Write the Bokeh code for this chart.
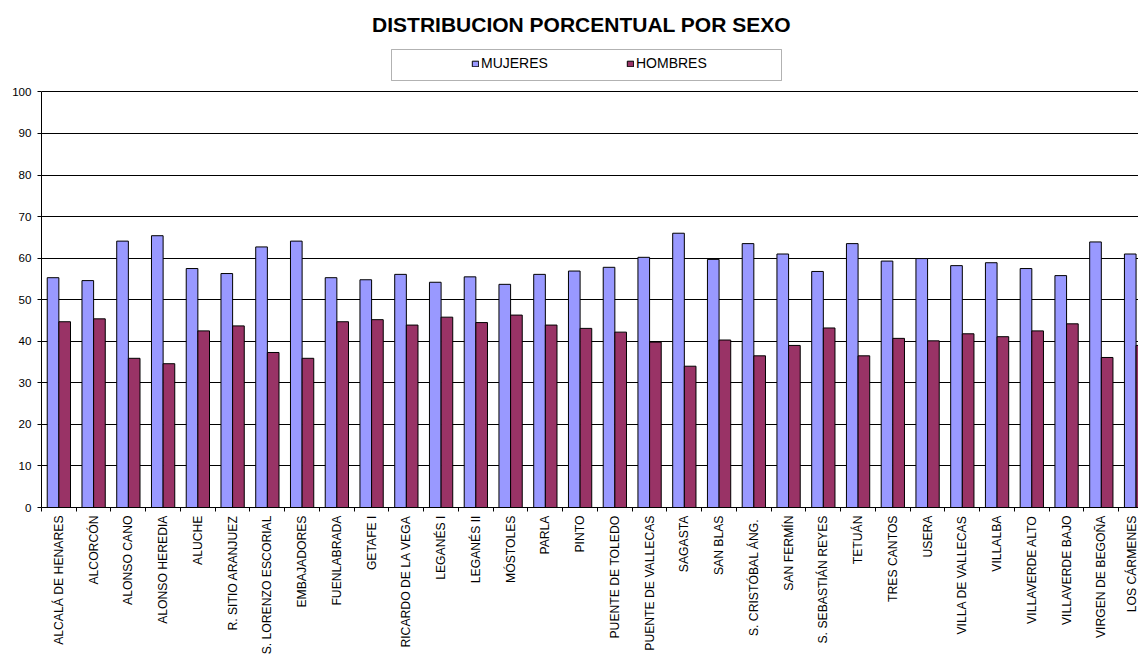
import numpy as np
from bokeh.plotting import figure
from bokeh.models import (Range1d, FixedTicker, ColumnDataSource, Legend, LegendItem,
                          Label, BoxAnnotation)
from bokeh.transform import dodge
from bokeh.embed import file_html
from bokeh.resources import INLINE

categories = ["ALCALÁ DE HENARES", "ALCORCÓN", "ALONSO CANO", "ALONSO HEREDIA", "ALUCHE",
              "R. SITIO ARANJUEZ", "S. LORENZO ESCORIAL", "EMBAJADORES", "FUENLABRADA", "GETAFE I",
              "RICARDO DE LA VEGA", "LEGANÉS I", "LEGANÉS II", "MÓSTOLES", "PARLA", "PINTO",
              "PUENTE DE TOLEDO", "PUENTE DE VALLECAS", "SAGASTA", "SAN BLAS", "S. CRISTÓBAL  ÁNG.",
              "SAN FERMÍN", "S. SEBASTIÁN REYES", "TETUÁN", "TRES CANTOS", "USERA",
              "VILLA DE VALLECAS", "VILLALBA", "VILLAVERDE ALTO", "VILLAVERDE BAJO",
              "VIRGEN DE BEGOÑA", "LOS CÁRMENES"]
mujeres = [55.3, 54.6, 64.1, 65.4, 57.5, 56.3, 62.7, 64.1, 55.3, 54.8,
           56.1, 54.2, 55.5, 53.7, 56.1, 56.9, 57.8, 60.2, 66.0, 59.7,
           63.5, 61.0, 56.8, 63.5, 59.3, 59.9, 58.2, 58.9, 57.5, 55.8,
           63.9, 61.0]
hombres = [44.7, 45.4, 35.9, 34.6, 42.5, 43.7, 37.3, 35.9, 44.7, 45.2,
           43.9, 45.8, 44.5, 46.3, 43.9, 43.1, 42.2, 39.8, 34.0, 40.3,
           36.5, 39.0, 43.2, 36.5, 40.7, 40.1, 41.8, 41.1, 42.5, 44.2,
           36.1, 39.0]
y_ticks = list(range(0, 101, 10))

FONT = "Liberation Sans"
BLUE = "#9999FF"
RED = "#993366"

idx = list(range(len(categories)))
src = ColumnDataSource(dict(x=idx, cat=categories, muj=mujeres, hom=hombres))

p = figure(width=1138, height=657, output_backend="svg", toolbar_location=None,
           x_range=Range1d(-0.5, 31.07), y_range=Range1d(0, 122.0),
           min_border_left=41, min_border_right=0, min_border_top=0, min_border_bottom=150)
p.outline_line_color = None
p.background_fill_color = "white"
p.border_fill_color = "white"

bw = 0.335
r1 = p.vbar(x=dodge("x", -bw / 2, range=p.x_range), top="muj", width=bw, source=src,
            fill_color=BLUE, line_color="black", line_width=1)
r2 = p.vbar(x=dodge("x", bw / 2, range=p.x_range), top="hom", width=bw, source=src,
            fill_color=RED, line_color="black", line_width=1)

# y axis
p.yaxis.ticker = FixedTicker(ticks=y_ticks)
p.yaxis.bounds = (0, 100)
p.yaxis.minor_tick_line_color = None
p.yaxis.major_tick_in = 0
p.yaxis.major_tick_out = 4
p.yaxis.major_label_standoff = 6
p.yaxis.major_label_text_font = FONT
p.yaxis.major_label_text_font_size = "11.6px"
p.yaxis.major_label_text_color = "black"
p.yaxis.axis_line_color = "black"
p.yaxis.major_tick_line_color = "black"

# x axis: labels at category centres, tick marks at category boundaries
boundaries = [i - 0.5 for i in range(len(categories) + 1)]
p.xaxis.ticker = FixedTicker(ticks=idx, minor_ticks=boundaries)
p.xaxis.major_label_overrides = {i: c for i, c in zip(idx, categories)}
p.xaxis.major_label_orientation = np.pi / 2
p.xaxis.major_label_standoff = 4
p.xaxis.major_label_text_font = FONT
p.xaxis.major_label_text_font_size = "12.2px"
p.xaxis.major_label_text_color = "black"
p.xaxis.major_tick_line_color = None
p.xaxis.major_tick_in = 0
p.xaxis.major_tick_out = 0
p.xaxis.minor_tick_line_color = "black"
p.xaxis.minor_tick_in = 0
p.xaxis.minor_tick_out = 4
p.xaxis.axis_line_color = "black"

p.xgrid.visible = False
p.ygrid.ticker = FixedTicker(ticks=y_ticks)
p.ygrid.grid_line_color = "black"
p.ygrid.grid_line_width = 1

# legend box + legend
box = BoxAnnotation(left=350, right=740, top=458, bottom=427,
                    left_units="screen", right_units="screen",
                    top_units="screen", bottom_units="screen",
                    fill_color="white", fill_alpha=1, line_color="black", line_width=1,
                    level="underlay")
p.add_layout(box)

legend = Legend(items=[LegendItem(label="MUJERES", renderers=[r1]),
                       LegendItem(label="HOMBRES", renderers=[r2])],
                orientation="horizontal", location=(430, 436),
                padding=0, margin=0, spacing=25,
                glyph_width=8, glyph_height=7, label_standoff=2,
                label_width=120, label_height=14,
                label_text_font=FONT, label_text_font_size="14px",
                label_text_color="black", label_text_baseline="middle",
                border_line_color=None, background_fill_alpha=0)
p.add_layout(legend)

title = Label(x=540, y=483.5, x_units="screen", y_units="screen",
              text="DISTRIBUCION PORCENTUAL POR SEXO", text_align="center",
              text_baseline="middle", text_font=FONT, text_font_size="21px",
              text_font_style="bold", text_color="black")
p.add_layout(title)

open("out.html", "w").write(file_html(p, INLINE))
